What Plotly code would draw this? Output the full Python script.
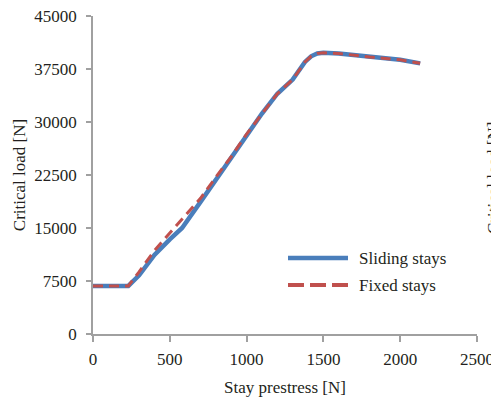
import plotly.graph_objects as go

# Stay prestress [N] vs critical load [N]
prestress_sliding = [0, 230, 300, 400, 500, 580, 700, 800, 900, 1000, 1100, 1200,
                     1300, 1380, 1420, 1460, 1500, 1600, 1800, 2000, 2130]
load_sliding = [6800, 6800, 8300, 11200, 13400, 15000, 18700, 21800, 24900, 28200,
                31200, 34000, 36000, 38500, 39300, 39700, 39800, 39700, 39200, 38800, 38300]

prestress_fixed = [0, 230, 300, 400, 500, 600, 700, 800, 900, 1000, 1100, 1200,
                   1300, 1380, 1420, 1460, 1500, 1600, 1800, 2000, 2130]
load_fixed = [6800, 6800, 8800, 11800, 14300, 16700, 19200, 22200, 25100, 28300,
              31200, 34000, 36000, 38500, 39300, 39700, 39800, 39700, 39200, 38800, 38300]

x_ticks = [0, 500, 1000, 1500, 2000, 2500]
y_ticks = [0, 7500, 15000, 22500, 30000, 37500, 45000]

BLUE = "#4a7ebb"
RED = "#c0504d"
AXIS = "#a0a0a0"
FONT = "Liberation Serif"
TEXT = "#231f20"

fig = go.Figure()
fig.add_trace(go.Scatter(x=prestress_sliding, y=load_sliding, mode="lines",
                         name="Sliding stays", line=dict(color=BLUE, width=4.5),
                         showlegend=False))
fig.add_trace(go.Scatter(x=prestress_fixed, y=load_fixed, mode="lines",
                         name="Fixed stays", line=dict(color=RED, width=3, dash="10px,6px"),
                         showlegend=False))

# Hand-built legend block (long line samples)
L, W, T, H = 93, 384, 16, 318
def px(xp):
    return (xp - L) / W
def py(yp):
    return (T + H - yp) / H

fig.add_shape(type="line", xref="paper", yref="paper", x0=px(288), x1=px(348),
              y0=py(258), y1=py(258), line=dict(color=BLUE, width=4.5))
fig.add_shape(type="line", xref="paper", yref="paper", x0=px(288), x1=px(348),
              y0=py(285), y1=py(285), line=dict(color=RED, width=4, dash="16px,6px"))
fig.add_annotation(xref="paper", yref="paper", x=px(357), y=py(258), text="Sliding stays",
                   showarrow=False, xanchor="left", yanchor="middle",
                   font=dict(family=FONT, size=17, color=TEXT))
fig.add_annotation(xref="paper", yref="paper", x=px(357), y=py(285), text="Fixed stays",
                   showarrow=False, xanchor="left", yanchor="middle",
                   font=dict(family=FONT, size=17, color=TEXT))

# Neighbouring panel's axis title at the right edge
fig.add_annotation(xref="paper", yref="paper", x=px(493), y=py(178), text="Critical load [N]",
                   showarrow=False, textangle=-90, xanchor="center", yanchor="middle",
                   font=dict(family=FONT, size=17, color=TEXT))

fig.update_layout(
    width=491, height=397,
    margin=dict(l=L, r=491 - L - W, t=T, b=397 - T - H),
    paper_bgcolor="white", plot_bgcolor="white",
    font=dict(family=FONT, size=17, color=TEXT),
    xaxis=dict(range=[0, 2500], tickvals=x_ticks, ticktext=[str(v) for v in x_ticks],
               automargin=False, showgrid=False, zeroline=False, ticklabeloverflow="allow",
               showline=True, linecolor=AXIS, linewidth=1.5, ticks="outside",
               tickcolor=AXIS, ticklen=6, tickwidth=1.5, ticklabelstandoff=3,
               title=dict(text="Stay prestress [N]", font=dict(size=17), standoff=14)),
    yaxis=dict(range=[0, 45000], tickvals=y_ticks, ticktext=[str(v) for v in y_ticks],
               automargin=False, showgrid=False, zeroline=False, ticklabeloverflow="allow",
               showline=True, linecolor=AXIS, linewidth=1.5, ticks="outside",
               tickcolor=AXIS, ticklen=5, tickwidth=1.5, ticklabelstandoff=6,
               title=dict(text="Critical load [N]", font=dict(size=17), standoff=4)),
)

fig.write_html("out.html")
